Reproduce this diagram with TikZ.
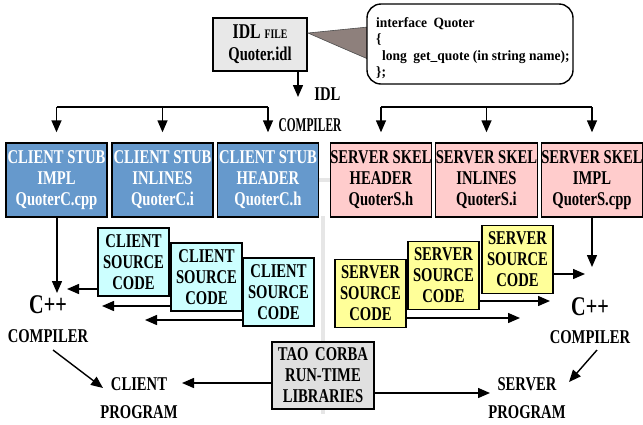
\documentclass[tikz,border=0pt]{standalone}
\usepackage{fontspec}
\setmainfont{Liberation Serif}[FakeStretch=0.75]
\newfontfamily\calloutfont{Liberation Serif}[FakeStretch=0.95]
\usetikzlibrary{arrows.meta,calc}
\definecolor{stubblue}{HTML}{6699CC}
\definecolor{skelpink}{HTML}{FFCCCC}
\definecolor{srccyan}{HTML}{CCFFFF}
\definecolor{srcyellow}{HTML}{FFFF99}
\definecolor{idlgray}{HTML}{E8E8E8}
\definecolor{taogray}{HTML}{E0E0E0}
\definecolor{wedgecol}{HTML}{8E807C}
\definecolor{bggray}{HTML}{E6E6E6}
\begin{document}
\begin{tikzpicture}[x=1pt,y=-1pt,
  lw/.style={line width=1.4pt},
  arr/.style={lw, -{Triangle[length=12pt,width=10pt]}},
  txt/.style={font=\fontsize{19.5}{21}\selectfont\bfseries, inner sep=0pt, align=center},
  gen/.style={txt, draw, lw, minimum width=101pt, minimum height=74pt},
  stub/.style={gen, fill=stubblue, text=white},
  skel/.style={gen, fill=skelpink},
  src/.style={txt, draw, lw, minimum width=71pt, minimum height=68pt},
  csrc/.style={src, fill=srccyan},
  ssrc/.style={src, fill=srcyellow},
  lbl/.style={txt, anchor=base},
  code/.style={font=\fontsize{14.2}{16}\selectfont\calloutfont\bfseries, inner sep=0pt, anchor=base west},
]
\useasboundingbox (0,0) rectangle (643,424);
% background cross
\draw[bggray, line width=4.5pt] (305,180) -- (345,180);
\draw[bggray, line width=4.5pt] (323,216) -- (323,414);

% IDL file and callout
\node[txt, draw, lw, fill=idlgray, minimum width=94pt, minimum height=53pt] (idl) at (260,44.5)
  {\fontsize{21}{24}\selectfont IDL {\fontsize{13}{14}\selectfont FILE}\\[1pt]Quoter.idl};
\filldraw[fill=wedgecol, draw=black!70, line width=0.6pt] (308,33) -- (368,27) -- (368,59) .. controls (340,47) .. (308,33) -- cycle;
\node[draw, lw, fill=white, rounded corners=14pt, minimum width=206pt, minimum height=80pt] (callout) at (470,44) {};
\node[code] (c1) at (376,27) {interface\hspace{3pt} Quoter};
\node[code] (c2) at (376,43) {\{};
\node[code] (c3) at (382,60) {long\hspace{3pt} get\_quote (in string name);};
\node[code] (c4) at (376,76) {\};};

% IDL compiler
\coordinate (idlend) at (298,97);
\draw[arr] (idl.south -| idlend) -- (idlend);
\node[lbl] (idltxt) at (327.5,100) {IDL};
\node[lbl] (idlcomp) at (310,131) {\scalebox{0.78}[1]{COMPILER}};

% generated files
\node[stub] (b1) at (56.5,180) {CLIENT STUB\\IMPL\\QuoterC.cpp};
\node[stub] (b2) at (162.5,180) {CLIENT STUB\\INLINES\\QuoterC.i};
\node[stub] (b3) at (268,180) {CLIENT STUB\\HEADER\\QuoterC.h};
\node[skel] (b4) at (381,180) {SERVER SKEL\\HEADER\\QuoterS.h};
\node[skel] (b5) at (486.5,180) {SERVER SKEL\\INLINES\\QuoterS.i};
\node[skel] (b6) at (592,180) {SERVER SKEL\\IMPL\\QuoterS.cpp};

\coordinate (bus) at (0,107);
\draw[lw] (b1.north |- bus) -- (b3.north |- bus);
\draw[lw] (b4.north |- bus) -- (b6.north |- bus);
\foreach \b in {b1,b2,b3,b4,b5,b6}
  \draw[arr, shorten >=10pt] (\b.north |- bus) -- (\b.north);

% client side
\node[csrc] (sA) at (133.5,262) {CLIENT\\SOURCE\\CODE};
\node[csrc] (sB) at (206.5,277) {CLIENT\\SOURCE\\CODE};
\node[csrc] (sC) at (278.5,292) {CLIENT\\SOURCE\\CODE};
\node[lbl, font=\fontsize{27}{30}\selectfont\bfseries] (cppL) at (48,313) {C++};
\node[lbl] (cmpL) at (48,342) {COMPILER};
\coordinate (tL) at (57,293);
\coordinate (tA) at (67,289);
\coordinate (tB) at (102,306);
\coordinate (tC) at (145,320);
\draw[arr] (b1.south -| tL) -- (tL);
\draw[arr] (sA.west |- tA) -- (tA);
\draw[arr] (sB.west |- tB) -- (tB);
\draw[arr] (sC.west |- tC) -- (tC);
\node[lbl] (cliL) at (139,390) {CLIENT};
\node[lbl] (cliP) at (139,418) {PROGRAM};
\coordinate (cs) at (53,350);
\coordinate (ce) at (103,388);
\draw[arr] (cs) -- (ce);

% server side
\node[ssrc] (sD) at (370.5,293.5) {SERVER\\SOURCE\\CODE};
\node[ssrc] (sE) at (443.5,275.5) {SERVER\\SOURCE\\CODE};
\node[ssrc] (sF) at (517.5,259.5) {SERVER\\SOURCE\\CODE};
\node[lbl, font=\fontsize{27}{30}\selectfont\bfseries] (cppR) at (590,315) {C++};
\node[lbl] (cmpR) at (590,343) {COMPILER};
\coordinate (tR) at (592,267);
\coordinate (tF) at (585,274);
\coordinate (tE) at (550,301);
\coordinate (tD) at (520,318);
\draw[arr] (b6.south -| tR) -- (tR);
\draw[arr] (sF.east |- tF) -- (tF);
\draw[arr] (sE.east |- tE) -- (tE);
\draw[arr] (sD.east |- tD) -- (tD);
\node[lbl] (srvS) at (527,390) {SERVER};
\node[lbl] (srvP) at (527,418) {PROGRAM};
\coordinate (ss) at (597,350);
\coordinate (se) at (569,382);
\draw[arr] (ss) -- (se);

% TAO libraries
\node[txt, draw, lw, fill=taogray, minimum width=102pt, minimum height=67pt] (tao) at (323,375.5)
  {TAO\hspace{3pt} CORBA\\RUN-TIME\\LIBRARIES};
\coordinate (tCl) at (182,383);
\coordinate (tSv) at (490,393);
\draw[arr] (tao.west |- tCl) -- (tCl);
\draw[arr] (tao.east |- tSv) -- (tSv);
\end{tikzpicture}
\end{document}
